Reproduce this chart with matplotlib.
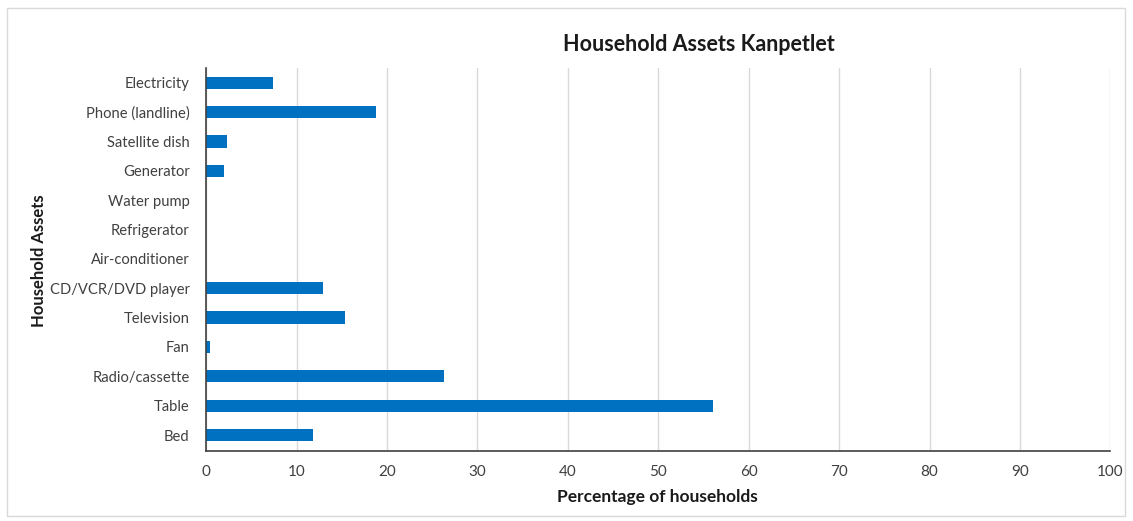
import matplotlib.pyplot as plt
from matplotlib.patches import Rectangle

assets = ['Electricity', 'Phone (landline)', 'Satellite dish', 'Generator',
          'Water pump', 'Refrigerator', 'Air-conditioner', 'CD/VCR/DVD player',
          'Television', 'Fan', 'Radio/cassette', 'Table', 'Bed']
percent = [7.4, 18.8, 2.3, 2.0, 0, 0, 0, 12.9, 15.4, 0.4, 26.3, 56.1, 11.8]

plt.rcParams['font.family'] = ['Lato', 'DejaVu Sans']

fig = plt.figure(figsize=(11.33, 5.21), dpi=100)
ax = fig.add_axes([0.182, 0.134, 0.798, 0.736])

# outer chart frame
fig.patches.append(Rectangle((0.006, 0.01), 0.987, 0.975, transform=fig.transFigure,
                             fill=False, edgecolor='#d9d9d9', linewidth=1))

ypos = list(range(len(assets)))[::-1]
ax.barh(ypos, percent, height=0.42, color='#0070c0')
ax.set_yticks(ypos)
ax.set_yticklabels(assets, fontsize=10.6, color='#404040')
ax.set_ylim(-0.55, len(assets) - 0.49)

ax.set_xlim(0, 100)
ax.set_xticks(range(0, 101, 10))
ax.tick_params(axis='x', labelsize=11, labelcolor='#404040', length=0, pad=10)
ax.tick_params(axis='y', length=0, pad=12)
ax.grid(axis='x', color='#d9d9d9', linewidth=1)
ax.set_axisbelow(True)

for side in ['top', 'right']:
    ax.spines[side].set_visible(False)
ax.spines['left'].set_color('#404040')
ax.spines['bottom'].set_color('#404040')
ax.spines['left'].set_linewidth(1.2)
ax.spines['bottom'].set_linewidth(1.2)

fig.text(0.617, 0.915, 'Household Assets Kanpetlet', ha='center', va='center',
         fontsize=15.5, fontweight='bold', color='#1a1a1a')
fig.text(0.58, 0.047, 'Percentage of households', ha='center', va='center',
         fontsize=12.5, fontweight='bold', color='#1a1a1a')
fig.text(0.034, 0.5, 'Household Assets', ha='center', va='center', rotation=90,
         fontsize=12, fontweight='bold', color='#1a1a1a')

plt.savefig('out.png', dpi=100)
